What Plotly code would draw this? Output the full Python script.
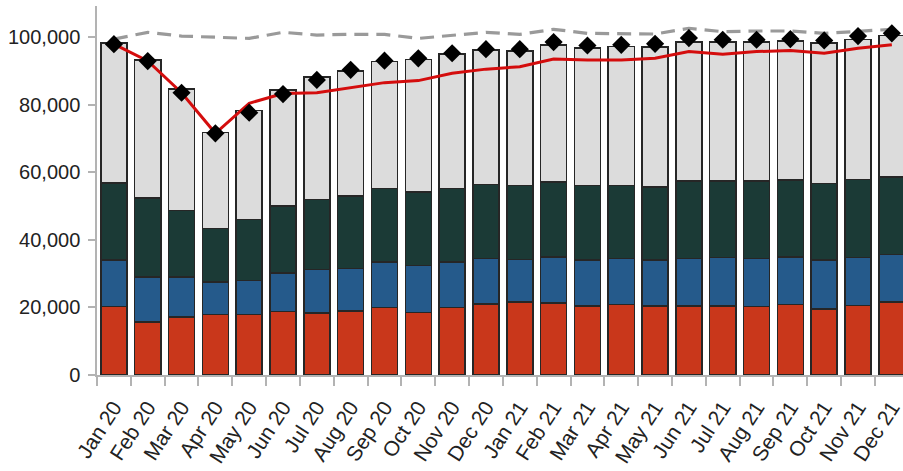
import plotly.graph_objects as go

months = ["Jan 20", "Feb 20", "Mar 20", "Apr 20", "May 20", "Jun 20",
          "Jul 20", "Aug 20", "Sep 20", "Oct 20", "Nov 20", "Dec 20",
          "Jan 21", "Feb 21", "Mar 21", "Apr 21", "May 21", "Jun 21",
          "Jul 21", "Aug 21", "Sep 21", "Oct 21", "Nov 21", "Dec 21"]

# Stacked components (bottom to top)
seg_red = [20300, 15700, 17200, 17900, 17900, 18800, 18400, 18900, 20000, 18500, 20000, 21100,
           21600, 21400, 20400, 20900, 20400, 20400, 20400, 20300, 20900, 19600, 20600, 21600]
seg_blue = [13700, 13300, 11800, 9600, 10100, 11400, 12800, 12600, 13500, 14000, 13500, 13400,
            12600, 13600, 13600, 13600, 13600, 14100, 14400, 14200, 14100, 14400, 14200, 14100]
seg_green = [22900, 23500, 19800, 15900, 18000, 19800, 20800, 21500, 21700, 21700, 21700, 22000,
             22000, 22200, 22200, 21700, 21700, 22900, 22600, 22900, 22700, 22700, 23100, 23000]
seg_grey = [41500, 40800, 35900, 28500, 32300, 34400, 36200, 37100, 37700, 39300, 39900, 39800,
            39800, 40600, 40600, 41100, 41500, 41300, 41200, 41200, 41300, 41600, 41500, 41800]

# Overlay series
diamonds = [98000, 93000, 83600, 71600, 77700, 83200, 87400, 90400, 93100, 93800, 95300, 96500,
            96500, 98600, 97600, 97800, 98100, 99800, 99300, 99300, 99500, 99100, 100400, 101200]
red_line = [98000, 93000, 83600, 71600, 80500, 83400, 83600, 85200, 86600, 87200, 89400, 90600,
            91300, 93600, 93300, 93300, 93800, 95800, 95000, 95800, 96100, 95300, 96800, 97800]
grey_dash = [99500, 101500, 100400, 100000, 99700, 101500, 100700, 100900, 100900, 99700, 100700, 101500,
             100900, 102400, 101200, 101200, 101000, 102700, 101700, 101900, 101900, 101200, 101700, 102400]

y_ticks = [0, 20000, 40000, 60000, 80000, 100000]

outline = dict(color="#262626", width=1.5)
fig = go.Figure()
for vals, col in [(seg_red, "#c9371b"), (seg_blue, "#255a8b"),
                  (seg_green, "#1b3a36"), (seg_grey, "#dcdcdc")]:
    fig.add_trace(go.Bar(x=months, y=vals, marker=dict(color=col, line=outline),
                         showlegend=False))

fig.add_trace(go.Scatter(x=months, y=grey_dash, mode="lines",
                         line=dict(color="#9a9a9a", width=3.2, dash="14px,8px"),
                         showlegend=False, cliponaxis=False))
fig.add_trace(go.Scatter(x=months, y=red_line, mode="lines",
                         line=dict(color="#d40d0d", width=3),
                         showlegend=False, cliponaxis=False))
fig.add_trace(go.Scatter(x=months, y=diamonds, mode="markers",
                         marker=dict(symbol="diamond", color="black", size=14),
                         showlegend=False, cliponaxis=False))

font = "Liberation Sans, Arial, sans-serif"
fig.update_layout(
    width=903, height=471,
    margin=dict(l=97, r=0, t=6, b=96),
    paper_bgcolor="white", plot_bgcolor="white",
    barmode="stack", bargap=0.23,
    font=dict(family=font, color="#222222"),
)
fig.update_xaxes(
    range=[-0.5, 23.33], showgrid=False, showline=True, linecolor="#b3b3b3", linewidth=1.5,
    ticks="outside", tickson="boundaries", ticklen=9, tickcolor="#b3b3b3", tickwidth=1.5,
    tickangle=-57, ticklabelstandoff=10, automargin=False,
    tickfont=dict(size=21, color="#222222", family=font),
)
fig.update_yaxes(
    range=[0, 109300], showgrid=False, zeroline=False, showline=True,
    linecolor="#b3b3b3", linewidth=1.5,
    ticks="outside", ticklen=7, tickcolor="#b3b3b3", tickwidth=1.5,
    tickvals=y_ticks, tickformat=",d", ticklabelstandoff=4, automargin=False,
    tickfont=dict(size=20, color="#222222", family=font),
)

fig.write_html("out.html")
